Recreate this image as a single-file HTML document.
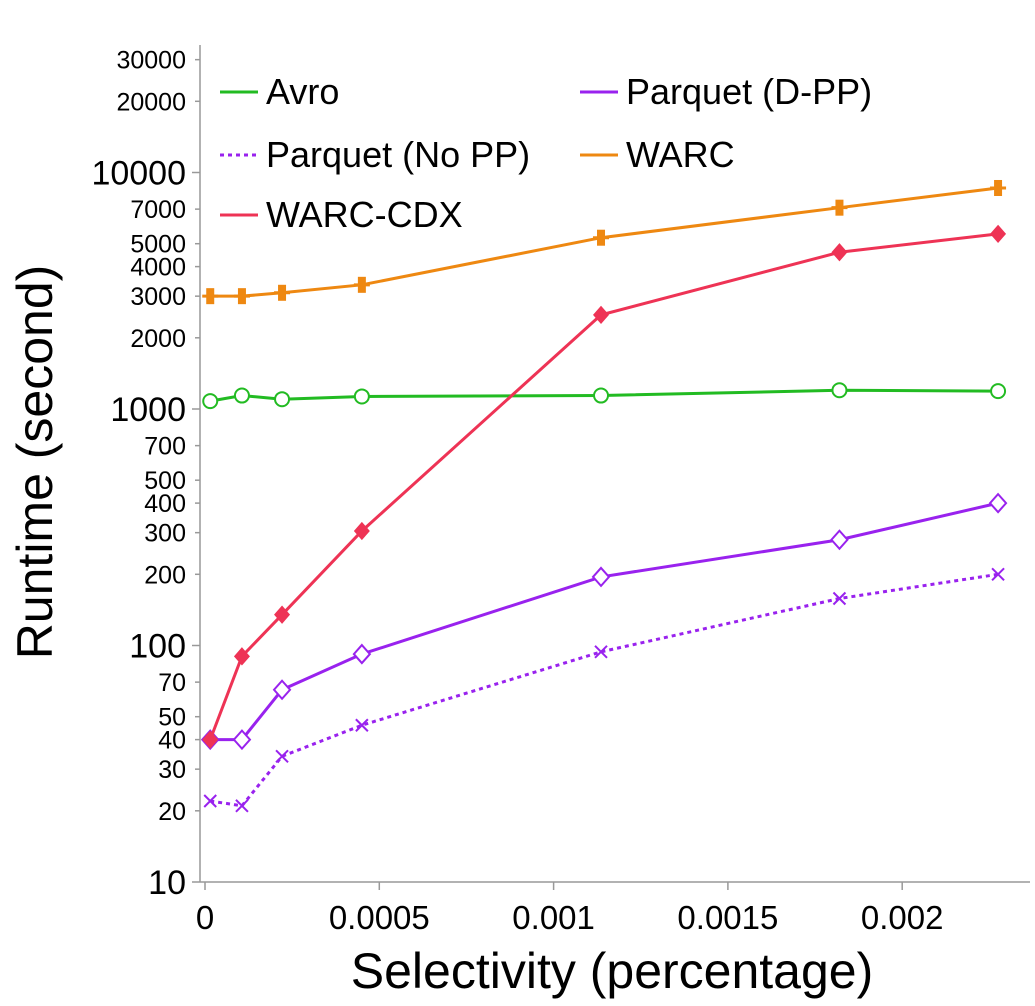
<!DOCTYPE html>
<html><head><meta charset="utf-8"><style>
body{margin:0;background:#fff;}
svg{display:block;font-family:"Liberation Sans",Arial,sans-serif;}
</style></head><body>
<svg id="chart" width="1035" height="1006" viewBox="0 0 1035 1006"></svg>
<script>
const xValues=[0.000015,0.000106,0.000221,0.00045,0.001136,0.00182,0.002275];
const avro=[1080,1140,1100,1130,1140,1200,1190];
const warc=[3000,3000,3100,3350,5300,7100,8600];
const warcCdx=[40,90,135,305,2500,4600,5500];
const parquetDpp=[40,40,65,92,195,280,400];
const parquetNoPP=[22,21,34,46,94,158,200];
const xTicks=[0,0.0005,0.001,0.0015,0.002];
const xTickLabels=["0","0.0005","0.001","0.0015","0.002"];
const yTicks=[10,20,30,40,50,70,100,200,300,400,500,700,1000,2000,3000,4000,5000,7000,10000,20000,30000];
const yMajor=[10,100,1000,10000];

const NS="http://www.w3.org/2000/svg";
const svg=document.getElementById('chart');
function xs(v){return 205+v/0.0005*174.3;}
function ys(v){return 882-(Math.log10(v)-1)*236.5;}
function mk(tag,attrs,parent){const e=document.createElementNS(NS,tag);for(const k in attrs)e.setAttribute(k,attrs[k]);(parent||svg).appendChild(e);return e;}

let a=mk('line',{x1:200,y1:45,x2:200,y2:882,stroke:'#999','stroke-width':1.5});


a=mk('line',{x1:200,y1:882,x2:1030,y2:882,stroke:'#999','stroke-width':1.5});



yTicks.forEach(v=>{
  const y=ys(v);const maj=yMajor.includes(v);
  const t=mk('line',{x1:maj?192:195,y1:y,x2:200,y2:y,stroke:'#999','stroke-width':1.5});
  
  
  const l=mk('text',{x:186,y:y+(maj?12:9),'text-anchor':'end','font-size':maj?34:25,fill:'#000'});
  l.textContent=v;
  
  
});
xTicks.forEach((v,i)=>{
  const x=xs(v);
  const t=mk('line',{x1:x,y1:882,x2:x,y2:890,stroke:'#999','stroke-width':1.5});
  
  
  const l=mk('text',{x:x,y:929,'text-anchor':'middle','font-size':33,fill:'#000'});
  l.textContent=xTickLabels[i];
  
  
});
let tt=mk('text',{x:612,y:988,'text-anchor':'middle','font-size':50,fill:'#000'});
tt.textContent='Selectivity (percentage)';


tt=mk('text',{x:0,y:0,'text-anchor':'middle','font-size':50,fill:'#000',transform:'translate(52,462) rotate(-90)'});
tt.textContent='Runtime (second)';



function marker(g,type,x,y,c){
  if(type==='circle')mk('circle',{cx:x,cy:y,r:7,fill:'#fff',stroke:c,'stroke-width':2},g);
  else if(type==='diamond')mk('polygon',{points:`${x},${y-9} ${x+8},${y} ${x},${y+9} ${x-8},${y}`,fill:'#fff',stroke:c,'stroke-width':2},g);
  else if(type==='fdiamond')mk('polygon',{points:`${x},${y-8} ${x+7},${y} ${x},${y+8} ${x-7},${y}`,fill:c,stroke:c,'stroke-width':1.5},g);
  else if(type==='bar'){mk('rect',{x:x-4,y:y-8,width:8,height:16,fill:c},g);mk('line',{x1:x-8,y1:y,x2:x+8,y2:y,stroke:c,'stroke-width':3},g);}
  else if(type==='x'){mk('path',{d:`M${x-6},${y-6}L${x+6},${y+6}M${x-6},${y+6}L${x+6},${y-6}`,stroke:c,'stroke-width':2},g);}
}
const series=[
 {name:'series-warc',vals:warc,c:'#ee8811',m:'bar',dash:null},
 {name:'series-avro',vals:avro,c:'#22bb22',m:'circle',dash:null},
 {name:'series-parquet-no-pp',vals:parquetNoPP,c:'#9922ee',m:'x',dash:'4,4'},
 {name:'series-parquet-d-pp',vals:parquetDpp,c:'#9922ee',m:'diamond',dash:null},
 {name:'series-warc-cdx',vals:warcCdx,c:'#ee3355',m:'fdiamond',dash:null},
];
series.forEach(s=>{
  const g=mk('g',{});
  
  
  const pts=s.vals.map((v,i)=>xs(xValues[i])+','+ys(v)).join(' ');
  const p=mk('polyline',{points:pts,fill:'none',stroke:s.c,'stroke-width':3},g);
  if(s.dash)p.setAttribute('stroke-dasharray',s.dash);
  s.vals.forEach((v,i)=>marker(g,s.m,xs(xValues[i]),ys(v),s.c));
});

const legend=[
 {t:'Avro',c:'#22bb22',x:220,y:92,d:null},
 {t:'Parquet (D-PP)',c:'#9922ee',x:580,y:92,d:null},
 {t:'Parquet (No PP)',c:'#9922ee',x:220,y:155,d:'4,4'},
 {t:'WARC',c:'#ee8811',x:580,y:155,d:null},
 {t:'WARC-CDX',c:'#ee3355',x:220,y:215,d:null},
];
legend.forEach(l=>{
  const g=mk('g',{});
  
  
  const ln=mk('line',{x1:l.x,y1:l.y,x2:l.x+38,y2:l.y,stroke:l.c,'stroke-width':3},g);
  if(l.d)ln.setAttribute('stroke-dasharray',l.d);
  const tx=mk('text',{x:l.x+46,y:l.y+12,'font-size':36,fill:'#000'},g);
  tx.textContent=l.t;
});
</script>
</body></html>
